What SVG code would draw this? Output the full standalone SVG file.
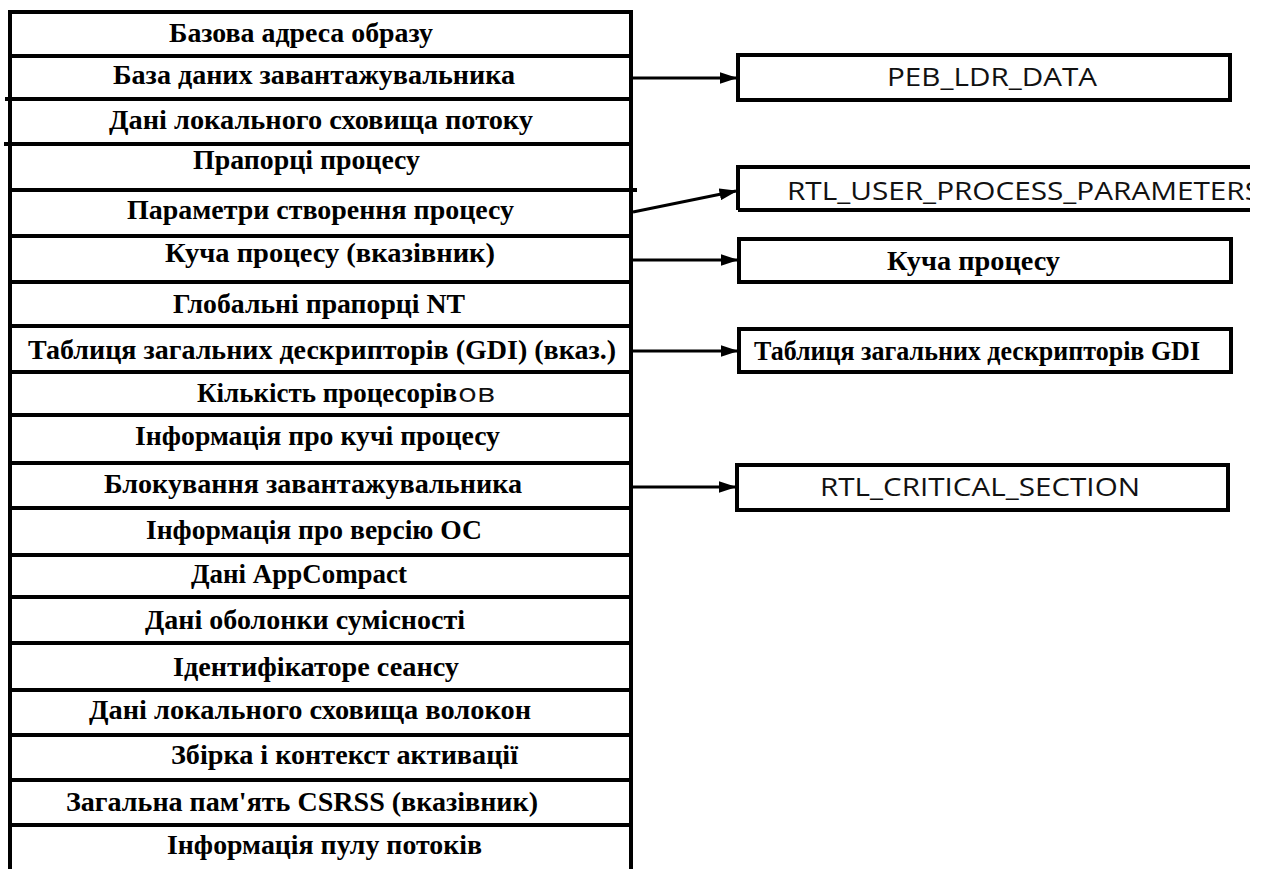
<svg xmlns="http://www.w3.org/2000/svg" width="1265" height="869" viewBox="0 0 1265 869">
<style>
.ln{stroke:#000;stroke-width:4;fill:none}
.bx{stroke:#000;stroke-width:4;fill:#fff}
.t{font-family:"Liberation Serif","Times New Roman",serif;font-weight:bold;font-size:27px;fill:#000}
.s{font-family:"Open Sans","Noto Sans","Liberation Sans",sans-serif;font-size:25px;fill:#111}
.c{stroke:#000;stroke-width:3;fill:none}
</style>
<defs>
<marker id="ah" markerWidth="6" markerHeight="4" refX="5.5" refY="2" orient="auto" markerUnits="strokeWidth">
<path d="M0,0 L6,2 L0,4 z" fill="#000"/>
</marker>
<clipPath id="clipR"><rect x="0" y="0" width="1250" height="869"/></clipPath>
</defs>
<rect width="1265" height="869" fill="#fff"/>
<g id="peb">
<path class="ln" d="M10,12 V869 M631,12 V869 M8,12 H633"/>
<path class="ln" d="M10,56 H631 M5,99 H631 M4,144 H631 M10,190 H637 M10,236 H631 M10,282 H631 M10,326 H631 M10,372 H631 M10,415 H631 M10,463 H631 M10,508 H631 M10,555 H631 M10,597 H631 M10,643 H631 M10,690 H631 M10,735 H631 M10,780 H631 M10,825 H631"/>
</g>
<g id="row1"><text class="t" x="169" y="42" textLength="264" lengthAdjust="spacingAndGlyphs">Базова адреса образу</text></g>
<g id="row2"><text class="t" x="113" y="84" textLength="402" lengthAdjust="spacingAndGlyphs">База даних завантажувальника</text></g>
<g id="row3"><text class="t" x="109" y="129" textLength="424" lengthAdjust="spacingAndGlyphs">Дані локального сховища потоку</text></g>
<g id="row4"><text class="t" x="193" y="169" textLength="227" lengthAdjust="spacingAndGlyphs">Прапорці процесу</text></g>
<g id="row5"><text class="t" x="127" y="219" textLength="387" lengthAdjust="spacingAndGlyphs">Параметри створення процесу</text></g>
<g id="row6"><text class="t" x="165" y="262" textLength="330" lengthAdjust="spacingAndGlyphs">Куча процесу (вказівник)</text></g>
<g id="row7"><text class="t" x="173" y="313" textLength="292" lengthAdjust="spacingAndGlyphs">Глобальні прапорці NT</text></g>
<g id="row8"><text class="t" x="28" y="359" textLength="588" lengthAdjust="spacingAndGlyphs">Таблиця загальних дескрипторів (GDI) (вказ.)</text></g>
<g id="row9"><text class="t" x="197" y="402" textLength="260" lengthAdjust="spacingAndGlyphs">Кількість процесорів</text><text class="s" x="458" y="402" textLength="37" lengthAdjust="spacingAndGlyphs" fill="#333">ов</text></g>
<g id="row10"><text class="t" x="135" y="445" textLength="365" lengthAdjust="spacingAndGlyphs">Інформація про кучі процесу</text></g>
<g id="row11"><text class="t" x="104" y="493" textLength="418" lengthAdjust="spacingAndGlyphs">Блокування завантажувальника</text></g>
<g id="row12"><text class="t" x="146" y="539" textLength="336" lengthAdjust="spacingAndGlyphs">Інформація про версію ОС</text></g>
<g id="row13"><text class="t" x="191" y="583" textLength="216" lengthAdjust="spacingAndGlyphs">Дані AppCompact</text></g>
<g id="row14"><text class="t" x="145" y="629" textLength="320" lengthAdjust="spacingAndGlyphs">Дані оболонки сумісності</text></g>
<g id="row15"><text class="t" x="173" y="676" textLength="286" lengthAdjust="spacingAndGlyphs">Ідентифікаторе сеансу</text></g>
<g id="row16"><text class="t" x="89" y="719" textLength="442" lengthAdjust="spacingAndGlyphs">Дані локального сховища волокон</text></g>
<g id="row17"><text class="t" x="171" y="764" textLength="347" lengthAdjust="spacingAndGlyphs">Збірка і контекст активації</text></g>
<g id="row18"><text class="t" x="66" y="811" textLength="472" lengthAdjust="spacingAndGlyphs">Загальна пам'ять CSRSS (вказівник)</text></g>
<g id="row19"><text class="t" x="167" y="854" textLength="315" lengthAdjust="spacingAndGlyphs">Інформація пулу потоків</text></g>
<g id="n-peb-ldr"><rect class="bx" x="738" y="55" width="492" height="45"/><text class="s" x="887" y="86" textLength="210" lengthAdjust="spacingAndGlyphs">PEB_LDR_DATA</text></g>
<g id="n-rtl-upp" clip-path="url(#clipR)"><path class="ln" d="M738,210 V167 H1265 M738,210 H1265"/><text class="s" x="787" y="200" textLength="474" lengthAdjust="spacingAndGlyphs">RTL_USER_PROCESS_PARAMETERS</text></g>
<g id="n-heap"><rect class="bx" x="739" y="239" width="492" height="43"/><text class="t" x="887" y="270" textLength="173" lengthAdjust="spacingAndGlyphs">Куча процесу</text></g>
<g id="n-gdi"><rect class="bx" x="739" y="329" width="492" height="43"/><text class="t" x="754" y="360" textLength="446" lengthAdjust="spacingAndGlyphs">Таблиця загальних дескрипторів GDI</text></g>
<g id="n-crit"><rect class="bx" x="737" y="465" width="491" height="45"/><text class="s" x="820" y="496" textLength="320" lengthAdjust="spacingAndGlyphs">RTL_CRITICAL_SECTION</text></g>
<g id="connectors">
<path class="c" marker-end="url(#ah)" d="M633,78 H736"/>
<path class="c" marker-end="url(#ah)" d="M633,212 L736,191"/>
<path class="c" marker-end="url(#ah)" d="M633,260 H737"/>
<path class="c" marker-end="url(#ah)" d="M633,351 H737"/>
<path class="c" marker-end="url(#ah)" d="M633,487 H735"/>
</g>
</svg>
